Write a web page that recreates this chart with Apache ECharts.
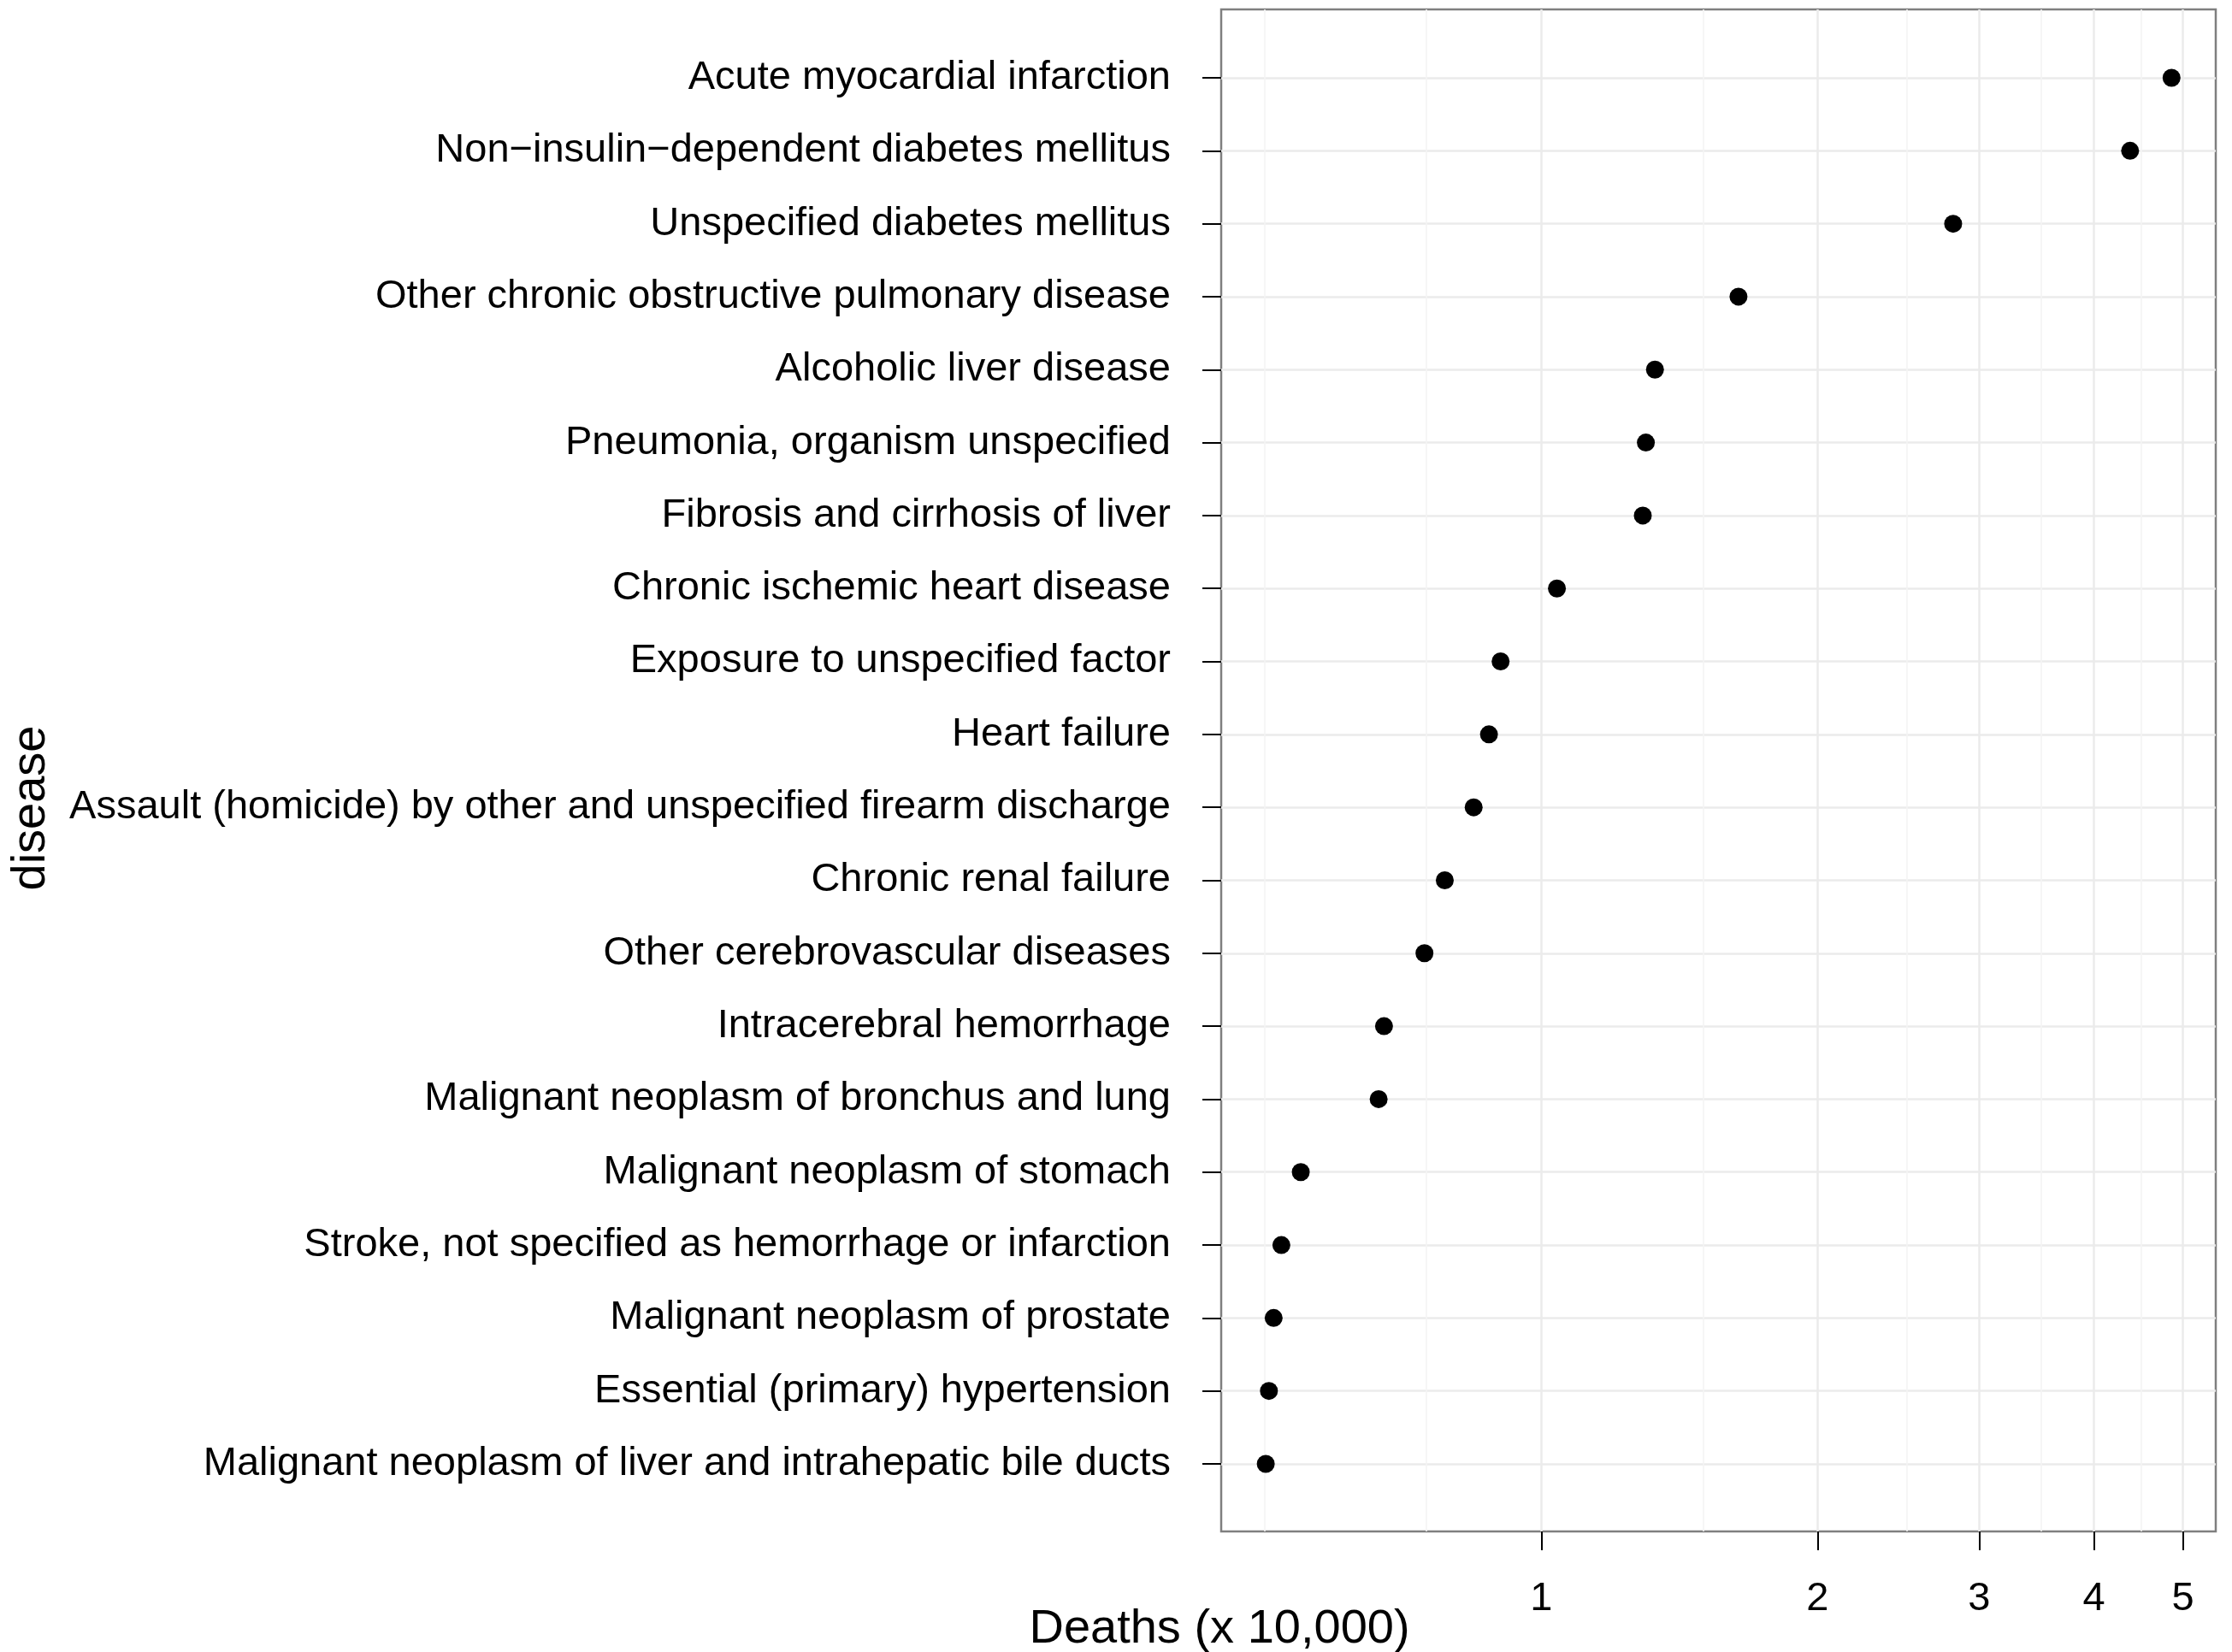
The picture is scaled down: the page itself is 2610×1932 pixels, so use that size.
<!DOCTYPE html>
<html>
<head>
<meta charset="utf-8">
<script src="https://cdn.jsdelivr.net/npm/echarts@6/dist/echarts.min.js"></script>
<style>
html,body{margin:0;padding:0;background:#fff;}
#chart{width:2610px;height:1932px;}
</style>
</head>
<body>
<div id="chart"></div>
<script>
// ---- data (top of chart to bottom) ----
const diseases = [
  "Acute myocardial infarction",
  "Non\u2212insulin\u2212dependent diabetes mellitus",
  "Unspecified diabetes mellitus",
  "Other chronic obstructive pulmonary disease",
  "Alcoholic liver disease",
  "Pneumonia, organism unspecified",
  "Fibrosis and cirrhosis of liver",
  "Chronic ischemic heart disease",
  "Exposure to unspecified factor",
  "Heart failure",
  "Assault (homicide) by other and unspecified firearm discharge",
  "Chronic renal failure",
  "Other cerebrovascular diseases",
  "Intracerebral hemorrhage",
  "Malignant neoplasm of bronchus and lung",
  "Malignant neoplasm of stomach",
  "Stroke, not specified as hemorrhage or infarction",
  "Malignant neoplasm of prostate",
  "Essential (primary) hypertension",
  "Malignant neoplasm of liver and intrahepatic bile ducts"
];
const deaths = [4.86, 4.38, 2.81, 1.64, 1.33, 1.30, 1.29, 1.04, 0.903, 0.877,
                0.844, 0.785, 0.746, 0.674, 0.665, 0.547, 0.521, 0.511, 0.505, 0.501];
const majorTicks = [1, 2, 3, 4, 5];
const minorTicks = [0.5, 0.75, 1.5, 2.5, 3.5, 4.5];
const xMin = 0.448, xMax = 5.43;
const xTitle = "Deaths (x 10,000)";
const yTitle = "disease";

const FONT = "'Liberation Sans', Arial, Helvetica, sans-serif";
const chart = echarts.init(document.getElementById('chart'), null, {renderer: 'canvas'});

const option = {
  backgroundColor: '#ffffff',
  animation: false,
  grid: [
    {left: 1428, top: 11, width: 1163, height: 1780, show: true,
     borderColor: '#7f7f7f', borderWidth: 2.5, backgroundColor: 'transparent'},
    {left: 1428, top: 91, width: 1163, height: 1621, show: false}
  ],
  xAxis: [
    {
      gridIndex: 0, type: 'log', logBase: 10, min: xMin, max: xMax,
      axisLine: {show: false},
      axisTick: {show: true, length: 22, customValues: majorTicks,
                 lineStyle: {color: '#000', width: 2}},
      axisLabel: {show: true, customValues: majorTicks, margin: 56,
                  fontSize: 47, color: '#000', fontFamily: FONT,
                  formatter: function (v) { return String(v); }},
      splitLine: {show: true, lineStyle: {color: '#ebebeb', width: 2.5}},
      minorTick: {show: false}, minorSplitLine: {show: false}
    },
    {
      gridIndex: 0, type: 'log', logBase: 10, min: xMin, max: xMax, position: 'bottom',
      axisLine: {show: false},
      axisTick: {show: false, customValues: minorTicks},
      axisLabel: {show: false, customValues: minorTicks},
      splitLine: {show: true, lineStyle: {color: '#f4f4f4', width: 1.6}}
    },
    {
      gridIndex: 1, type: 'log', logBase: 10, min: xMin, max: xMax, show: false
    }
  ],
  yAxis: [
    {gridIndex: 0, type: 'value', min: 0, max: 1, show: false},
    {
      gridIndex: 1, type: 'category', data: diseases, inverse: true, boundaryGap: false,
      axisLine: {show: false},
      axisTick: {show: true, length: 22, interval: 0, lineStyle: {color: '#000', width: 2}},
      axisLabel: {show: true, interval: 0, margin: 59, fontSize: 47, color: '#000',
                  fontFamily: FONT, padding: [6, 0, 0, 0]},
      splitLine: {show: true, interval: 0, lineStyle: {color: '#ebebeb', width: 2.5}}
    }
  ],
  series: [
    {
      type: 'scatter', xAxisIndex: 2, yAxisIndex: 1,
      data: deaths.map(function (v, i) { return [v, diseases[i]]; }),
      symbol: 'circle', symbolSize: 21,
      itemStyle: {color: '#000', opacity: 1},
      z: 10
    }
  ],
  graphic: [
    {type: 'text', x: 1426, y: 1906, z: 100,
     style: {text: xTitle, fontSize: 56, fontFamily: FONT, fill: '#000',
             align: 'center', verticalAlign: 'middle'}},
    {type: 'text', x: 37, y: 945, rotation: Math.PI / 2, z: 100,
     style: {text: yTitle, fontSize: 56, fontFamily: FONT, fill: '#000',
             align: 'center', verticalAlign: 'middle'}}
  ]
};
chart.setOption(option);
</script>
</body>
</html>
